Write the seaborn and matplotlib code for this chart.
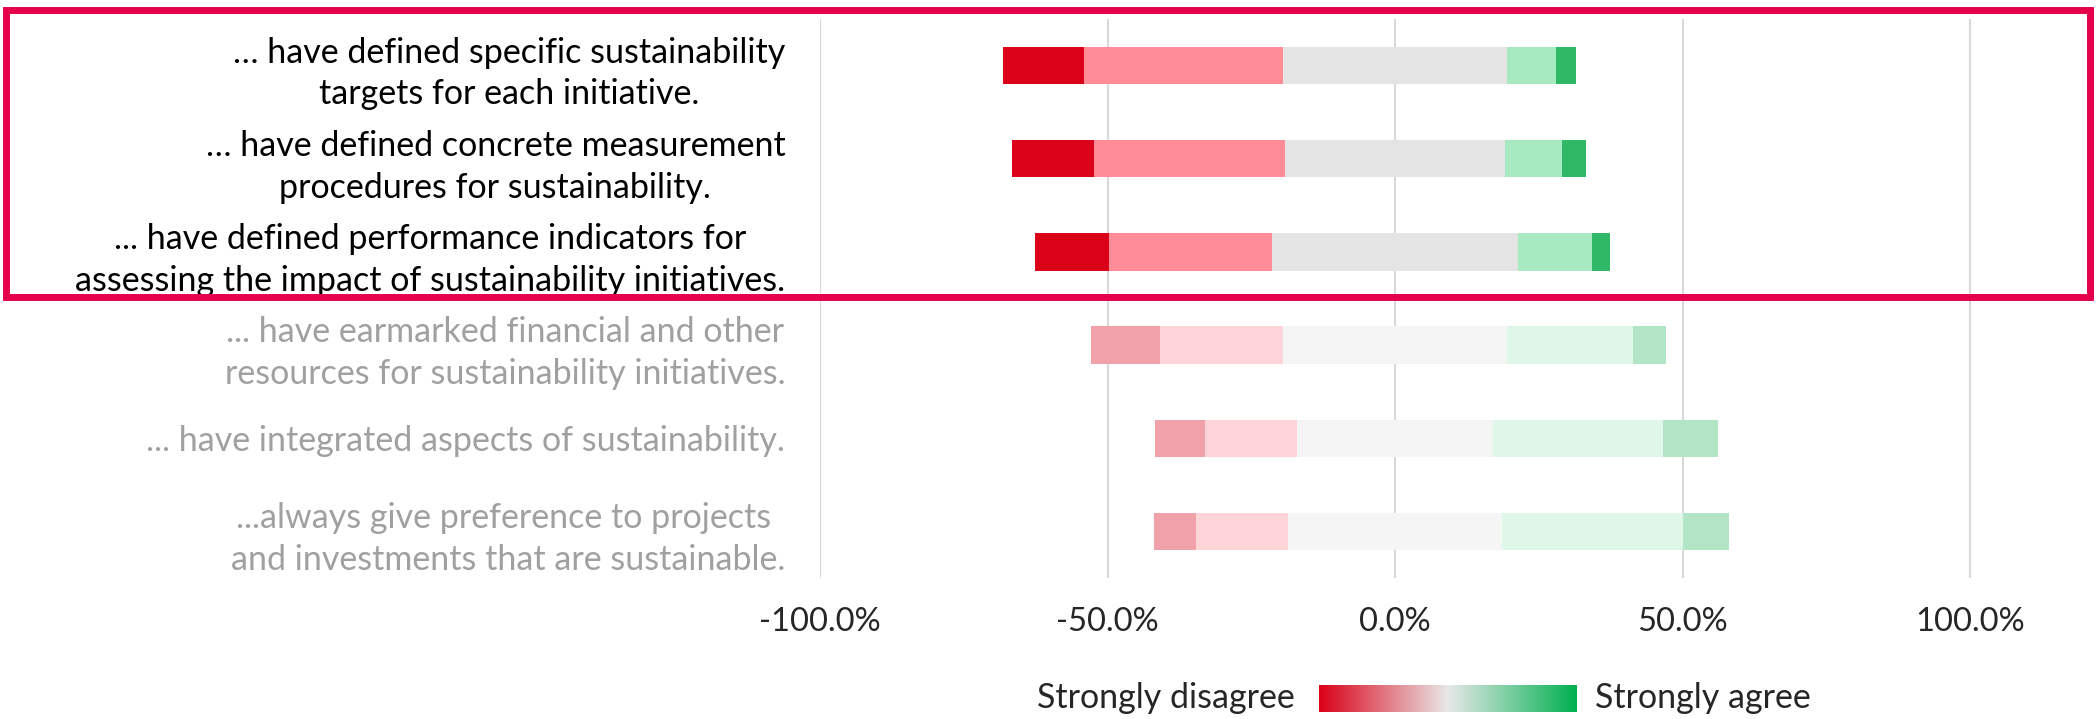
import matplotlib
matplotlib.use("Agg")
import matplotlib.pyplot as plt
import numpy as np
import pandas as pd
import seaborn as sns
from matplotlib.colors import LinearSegmentedColormap, to_rgb
from matplotlib.patches import Rectangle

# Survey statements (top to bottom) and answer shares in percent.
LABELS = [
    "… have defined specific sustainability\ntargets for each initiative.",
    "… have defined concrete measurement\nprocedures for sustainability.",
    "... have defined performance indicators for\nassessing the impact of sustainability initiatives.",
    "... have earmarked financial and other\nresources for sustainability initiatives.",
    "... have integrated aspects of sustainability.",
    "...always give preference to projects \nand investments that are sustainable.",
]
HIGHLIGHTED = [True, True, True, False, False, False]

STRONGLY_DISAGREE = [14.1, 14.2, 12.9, 12.0, 8.7, 7.3]
DISAGREE = [34.6, 33.3, 28.3, 21.5, 16.0, 16.1]
NEUTRAL = [38.9, 38.2, 42.8, 38.9, 34.1, 37.1]
AGREE = [8.6, 9.9, 12.8, 22.0, 29.5, 31.5]
STRONGLY_AGREE = [3.4, 4.3, 3.2, 5.6, 9.7, 8.0]

XTICKS = [-100, -50, 0, 50, 100]

COLORS = {
    "strongly_disagree": "#DA0118",
    "disagree": "#FF8C96",
    "neutral": "#E4E4E4",
    "agree": "#A7E9C1",
    "strongly_agree": "#2FB865",
}
BOX_COLOR = "#E4004B"
FADED_TEXT = "#A0A0A0"
LABEL_SIZE = 24.5
TICK_SIZE = 23.5

W, H = 2096, 719


def faded(color, alpha=0.37):
    rgb = np.array(to_rgb(color))
    return tuple(1 - alpha * (1 - rgb))


df = pd.DataFrame({
    "label": LABELS,
    "strongly_disagree": STRONGLY_DISAGREE,
    "disagree": DISAGREE,
    "neutral": NEUTRAL,
    "agree": AGREE,
    "strongly_agree": STRONGLY_AGREE,
})
half = df["neutral"] / 2

# Bars all start at 0, so draw the outermost cumulative end first and
# let the inner segments cover it.
layers = [
    ("strongly_disagree", -(half + df["disagree"] + df["strongly_disagree"])),
    ("disagree", -(half + df["disagree"])),
    ("neutral", -half),
    ("strongly_agree", half + df["agree"] + df["strongly_agree"]),
    ("agree", half + df["agree"]),
    ("neutral", half),
]

sns.set_theme(style="white")
plt.rcParams["font.family"] = ["Lato", "DejaVu Sans"]

fig = plt.figure(figsize=(W / 100, H / 100), dpi=100)
ax = fig.add_axes([820 / W, 1 - 578 / H, (2085 - 820) / W, (578 - 19) / H])

for seg, ends in layers:
    palette = {lab: (COLORS[seg] if hi else faded(COLORS[seg]))
               for lab, hi in zip(LABELS, HIGHLIGHTED)}
    sns.barplot(x=ends.values, y=df["label"], hue=df["label"], order=LABELS,
                palette=palette, legend=False, orient="h", width=0.4,
                saturation=1, errorbar=None, linewidth=0, ax=ax)

ax.set_xlim(-100, 120)
ax.set_ylim(5.5, -0.5)
ax.set_xticks(XTICKS)
ax.set_xticklabels([f"{t:.1f}%" for t in XTICKS], fontsize=TICK_SIZE)
ax.xaxis.grid(True, color="#D9D9D9", linewidth=1.5)
ax.set_axisbelow(True)
ax.set(xlabel="", ylabel="")
sns.despine(ax=ax, left=True, bottom=True)
ax.tick_params(axis="x", length=0, pad=21)
ax.tick_params(axis="y", length=0, pad=25)
for tl, hi in zip(ax.get_yticklabels(), HIGHLIGHTED):
    tl.set_fontsize(LABEL_SIZE)
    tl.set_multialignment("center")
    tl.set_linespacing(1.38)
    tl.set_color("black" if hi else FADED_TEXT)

# Highlight frame around the first three statements.
fig.add_artist(Rectangle((6 / W, 1 - 297 / H), (2090 - 6) / W, (297 - 10) / H,
                         transform=fig.transFigure, fill=False,
                         edgecolor=BOX_COLOR, linewidth=5))

# Gradient legend.
cmap = LinearSegmentedColormap.from_list(
    "scale", [COLORS["strongly_disagree"], "#E8E8E8", "#00B050"])
cax = fig.add_axes([1319 / W, 1 - 712 / H, (1577 - 1319) / W, (712 - 685) / H])
cax.imshow(np.linspace(0, 1, 256)[None, :], aspect="auto", cmap=cmap)
cax.axis("off")
fig.text(1295 / W, 1 - 698 / H, "Strongly disagree", ha="right", va="center",
         fontsize=LABEL_SIZE)
fig.text(1595 / W, 1 - 698 / H, "Strongly agree", ha="left", va="center",
         fontsize=LABEL_SIZE)

fig.savefig("out.png", dpi=100)
